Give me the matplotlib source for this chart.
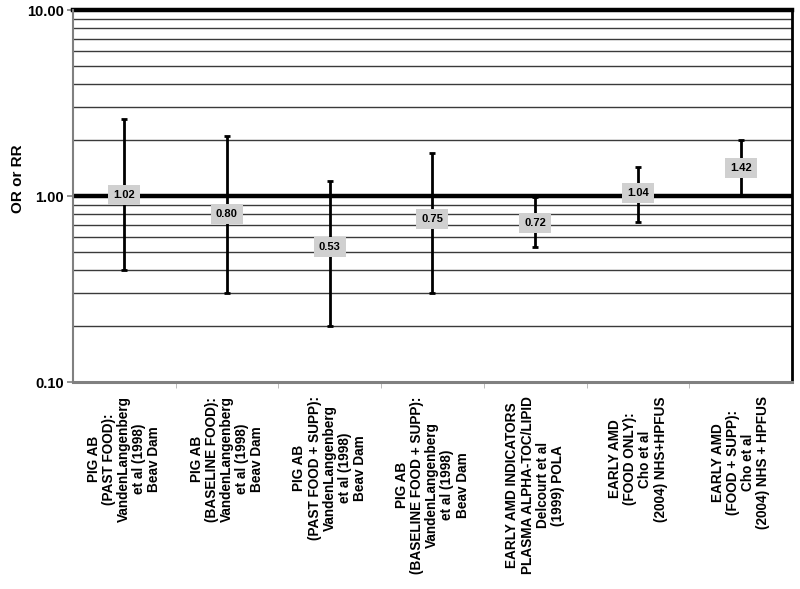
import matplotlib.pyplot as plt
from matplotlib.ticker import LogLocator, NullFormatter, FixedLocator

plt.rcParams['font.family'] = ['Liberation Sans', 'DejaVu Sans']
plt.rcParams['font.weight'] = 'bold'

# study labels, point estimates and 95% CI limits
studies = [
    "PIG AB\n(PAST FOOD):\nVandenLangenberg\net al (1998)\nBeav Dam",
    "PIG AB\n(BASELINE FOOD):\nVandenLangenberg\net al (1998)\nBeav Dam",
    "PIG AB\n(PAST FOOD + SUPP):\nVandenLangenberg\net al (1998)\nBeav Dam",
    "PIG AB\n(BASELINE FOOD + SUPP):\nVandenLangenberg\net al (1998)\nBeav Dam",
    "EARLY AMD INDICATORS\nPLASMA ALPHA-TOC/LIPID\nDelcourt et al\n(1999) POLA",
    "EARLY AMD\n(FOOD ONLY):\nCho et al\n(2004) NHS+HPFUS",
    "EARLY AMD\n(FOOD + SUPP):\nCho et al\n(2004) NHS + HPFUS",
]
estimate = [1.02, 0.80, 0.53, 0.75, 0.72, 1.04, 1.42]
ci_low = [0.40, 0.30, 0.20, 0.30, 0.53, 0.73, 1.00]
ci_high = [2.60, 2.10, 1.20, 1.70, 0.99, 1.43, 2.00]

fig = plt.figure(figsize=(8, 5.89), dpi=100)
ax = fig.add_axes([0.091, 0.351, 0.899, 0.632])

x = list(range(len(studies)))
err = [[e - lo for e, lo in zip(estimate, ci_low)],
       [hi - e for e, hi in zip(estimate, ci_high)]]

ax.set_yscale('log')
ax.set_ylim(0.1, 10)
ax.set_xlim(-0.5, len(studies) - 0.5)

# thin lines at every minor tick, heavy ones at 1 and 10
ax.yaxis.set_minor_locator(LogLocator(base=10, subs=range(2, 10)))
ax.yaxis.set_minor_formatter(NullFormatter())
ax.grid(which='minor', axis='y', color='#3a3a3a', lw=1.0)
ax.axhline(1.0, color='black', lw=3.2, zorder=2)
ax.axhline(10.0, color='black', lw=3.2, zorder=2, clip_on=False)

ax.errorbar(x, estimate, yerr=err, fmt='none', ecolor='black',
            elinewidth=2, capsize=2, capthick=2, zorder=3)

for xi, v in zip(x, estimate):
    ax.text(xi, v, f"{v:.2f}", ha='center', va='center', fontsize=8,
            fontweight='bold', zorder=4,
            bbox=dict(boxstyle='square,pad=0.45', fc='#d0d0d0', ec='none'))

ax.set_yticks([0.1, 1, 10])
ax.set_yticklabels(["0.10", "1.00", "10.00"])
ax.tick_params(axis='y', which='major', labelsize=10.5, length=4.5,
               color='#808080', width=1.2, pad=2)
ax.tick_params(axis='y', which='minor', length=0)

ax.set_xticks(x)
ax.set_xticklabels(studies, rotation=90, ha='center', va='top',
                   multialignment='center', fontsize=9.8, linespacing=1.1)
ax.tick_params(axis='x', which='major', length=0, pad=10)
ax.xaxis.set_minor_locator(FixedLocator([i + 0.5 for i in x[:-1]]))
ax.tick_params(axis='x', which='minor', length=4, color='#b0b0b0')

ax.set_ylabel("OR or RR", fontsize=11, fontweight='bold')
ax.yaxis.set_label_coords(-0.066, 0.546)

for side in ('left', 'bottom'):
    ax.spines[side].set_color('#808080')
ax.spines['left'].set_linewidth(1.5)
ax.spines['bottom'].set_linewidth(2.2)
ax.spines['right'].set_color('black')
ax.spines['right'].set_linewidth(2)
ax.spines['top'].set_visible(False)

fig.savefig('out.png', dpi=100, facecolor='white')
